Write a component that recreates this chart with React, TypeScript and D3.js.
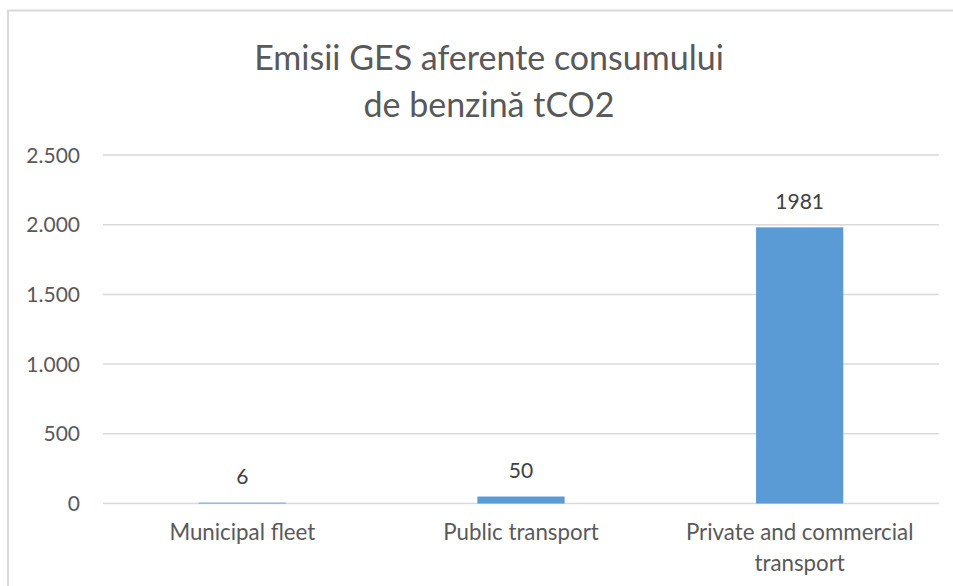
import React from "react";
import * as d3 from "d3";

const titleLines = ["Emisii GES aferente consumului", "de benzină tCO2"];
const categories = ["Municipal fleet", "Public transport", "Private and commercial transport"];
const categoryLines = [["Municipal fleet"], ["Public transport"], ["Private and commercial", "transport"]];
const values = [6, 50, 1981];
const yTicks = [0, 500, 1000, 1500, 2000, 2500];

const W = 953;
const H = 586;
const FONT = "Lato, 'Open Sans', sans-serif";

export default function App() {
  const x = d3.scaleBand<string>().domain(categories).range([103, 939]).padding(0);
  const y = d3.scaleLinear().domain([0, 2500]).range([503.5, 155]);
  const barFrac = 0.313;
  const fmt = (v: number) => d3.format(",")(v).replace(/,/g, ".");

  return (
    <svg width={W} height={H} style={{ position: "absolute", left: 0, top: 0, background: "#fff" }} fontFamily={FONT}>
      <rect x={8} y={10.5} width={W} height={H} fill="#fff" stroke="#d9d9d9" strokeWidth={2} />
      {titleLines.map((t, i) => (
        <text key={i} x={489} y={70 + i * 46.5} textAnchor="middle" fontSize={34} fill="#595959">
          {t}
        </text>
      ))}
      {yTicks.map((t) => (
        <g key={t}>
          <line x1={103} x2={939} y1={y(t)} y2={y(t)} stroke="#d9d9d9" strokeWidth={1.5} />
          <text x={80} y={y(t) + 7.5} textAnchor="end" fontSize={21} fill="#595959">
            {fmt(t)}
          </text>
        </g>
      ))}
      {categories.map((c, i) => {
        const bw = x.bandwidth() * barFrac;
        const cx = (x(c) as number) + x.bandwidth() / 2;
        return (
          <g key={c}>
            <rect x={cx - bw / 2} y={y(values[i])} width={bw} height={y(0) - y(values[i])} fill="#5b9bd5" />
            <text x={cx} y={y(values[i]) - 18.5} textAnchor="middle" fontSize={21} fill="#404040">
              {values[i]}
            </text>
            {categoryLines[i].map((l, j) => (
              <text key={j} x={cx} y={540 + j * 30.5} textAnchor="middle" fontSize={22.3} fill="#595959">
                {l}
              </text>
            ))}
          </g>
        );
      })}
    </svg>
  );
}
